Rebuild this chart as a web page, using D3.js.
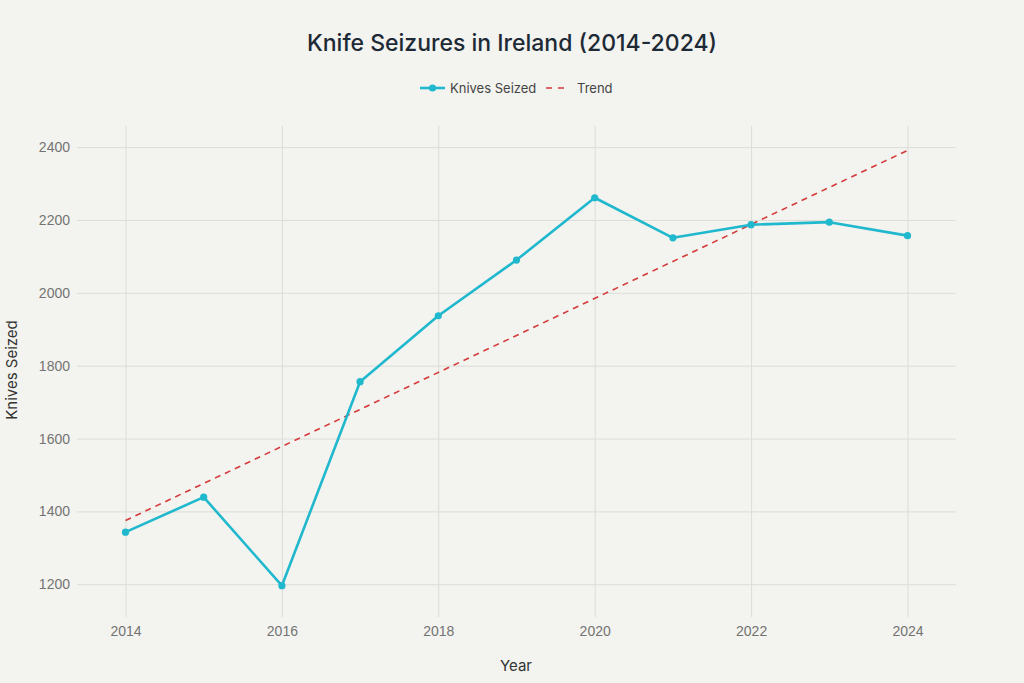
<!DOCTYPE html>
<html>
<head>
<meta charset="utf-8">
<script src="https://cdn.jsdelivr.net/npm/d3@7"></script>
<style>
  html, body { margin: 0; padding: 0; background: #f3f3ef; }
  svg { display: block; font-family: Inter, "Open Sans", sans-serif; }
</style>
</head>
<body>
<div id="chart"></div>
<script>
// data
const years = [2014, 2015, 2016, 2017, 2018, 2019, 2020, 2021, 2022, 2023, 2024];
const knivesSeized = [1343, 1439, 1196, 1756, 1937, 2090, 2261, 2151, 2187, 2194, 2157];
const trendYears = [2014, 2024];
const trendValues = [1375, 2391];
const xTicks = [2014, 2016, 2018, 2020, 2022, 2024];
const yTicks = [1200, 1400, 1600, 1800, 2000, 2200, 2400];

const W = 1024, H = 683;
const margin = { top: 126, right: 68, bottom: 66, left: 77 };
const width = W - margin.left - margin.right,
      height = H - margin.top - margin.bottom;

const svg = d3.select("#chart").append("svg")
  .attr("width", W)
  .attr("height", H);

svg.append("rect").attr("width", W).attr("height", H).attr("fill", "#f3f3ef");

const g = svg.append("g")
  .attr("transform", "translate(" + margin.left + "," + margin.top + ")");

const x = d3.scaleLinear().domain([2013.38, 2024.62]).range([0, width]);
const y = d3.scaleLinear().domain([1110, 2458]).range([height, 0]);

// grid
g.append("g")
  .call(d3.axisLeft(y).tickValues(yTicks).tickSize(-width).tickFormat(""))
  .call(a => a.select(".domain").remove())
  .call(a => a.selectAll("line").attr("stroke", "#dcdcd8").attr("stroke-width", 1));

g.append("g")
  .attr("transform", "translate(0," + height + ")")
  .call(d3.axisBottom(x).tickValues(xTicks).tickSize(-height).tickFormat(""))
  .call(a => a.select(".domain").remove())
  .call(a => a.selectAll("line").attr("stroke", "#dcdcd8").attr("stroke-width", 1));

// tick labels
g.append("g")
  .call(d3.axisLeft(y).tickValues(yTicks).tickSize(0).tickPadding(7).tickFormat(d3.format("d")))
  .call(a => a.select(".domain").remove())
  .call(a => a.selectAll("text").attr("fill", "#737373").style("font-size", "14px"));

g.append("g")
  .attr("transform", "translate(0," + height + ")")
  .call(d3.axisBottom(x).tickValues(xTicks).tickSize(0).tickPadding(9).tickFormat(d3.format("d")))
  .call(a => a.select(".domain").remove())
  .call(a => a.selectAll("text").attr("fill", "#737373").style("font-size", "14px"));

// axis titles
svg.append("text")
  .attr("x", 516)
  .attr("y", 671)
  .attr("text-anchor", "middle")
  .attr("fill", "#333")
  .style("font-size", "15px")
  .text("Year");

svg.append("text")
  .attr("transform", "translate(17,370) rotate(-90)")
  .attr("text-anchor", "middle")
  .attr("fill", "#333")
  .style("font-size", "15px")
  .text("Knives Seized");

// trend
const trend = trendYears.map((d, i) => ({ year: d, value: trendValues[i] }));
g.append("path")
  .datum(trend)
  .attr("fill", "none")
  .attr("stroke", "#d43b3b")
  .attr("stroke-width", 1.6)
  .attr("stroke-dasharray", "6,5")
  .attr("d", d3.line().x(d => x(d.year)).y(d => y(d.value)));

// main series
const series = years.map((d, i) => ({ year: d, value: knivesSeized[i] }));
g.append("path")
  .datum(series)
  .attr("fill", "none")
  .attr("stroke", "#1fb8cd")
  .attr("stroke-width", 2.6)
  .attr("stroke-linejoin", "round")
  .attr("d", d3.line().x(d => x(d.year)).y(d => y(d.value)));

g.selectAll(".dot")
  .data(series)
  .enter().append("circle")
  .attr("class", "dot")
  .attr("cx", d => x(d.year))
  .attr("cy", d => y(d.value))
  .attr("r", 3.6)
  .attr("fill", "#1fb8cd");

// title
svg.append("text")
  .attr("x", 512)
  .attr("y", 51)
  .attr("text-anchor", "middle")
  .attr("fill", "#1d2a36")
  .style("font-size", "23px")
  .style("font-weight", 500)
  .text("Knife Seizures in Ireland (2014-2024)");

// legend
const lg = svg.append("g").attr("transform", "translate(420,88)");
lg.append("line").attr("x1", 0).attr("x2", 25).attr("y1", 0).attr("y2", 0)
  .attr("stroke", "#1fb8cd").attr("stroke-width", 2.6);
lg.append("circle").attr("cx", 12.5).attr("cy", 0).attr("r", 3.6).attr("fill", "#1fb8cd");
lg.append("text").attr("x", 30).attr("y", 4.5).attr("fill", "#444")
  .style("font-size", "13px").text("Knives Seized");
lg.append("line").attr("x1", 126).attr("x2", 150).attr("y1", 0).attr("y2", 0)
  .attr("stroke", "#d43b3b").attr("stroke-width", 1.6).attr("stroke-dasharray", "6,6");
lg.append("text").attr("x", 157).attr("y", 4.5).attr("fill", "#444")
  .style("font-size", "13px").text("Trend");
</script>
</body>
</html>
